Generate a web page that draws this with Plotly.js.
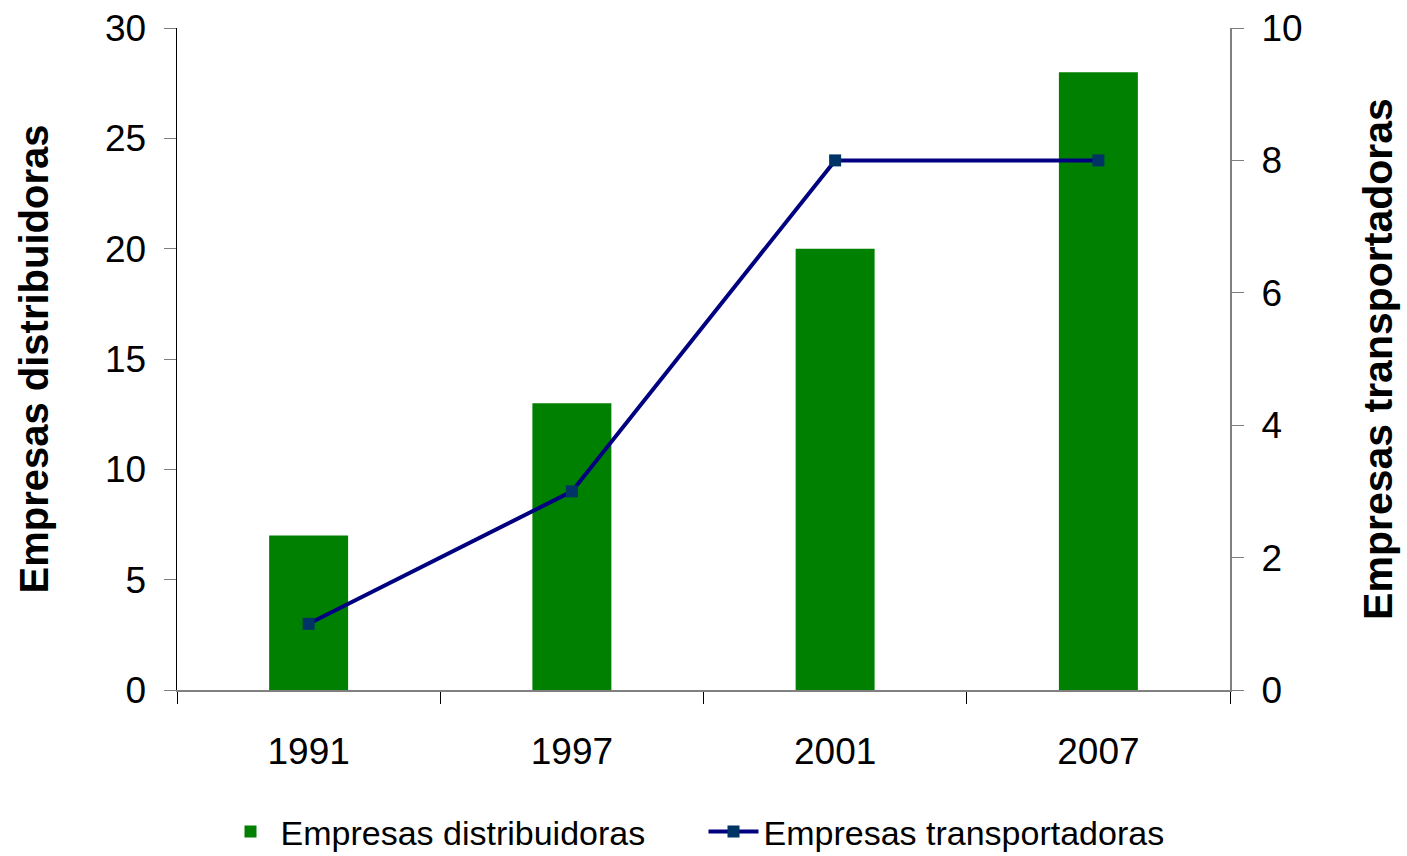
<!DOCTYPE html>
<html><head><meta charset="utf-8">
<script src="https://cdn.plot.ly/plotly-3.0.1.min.js"></script>
<style>html,body{margin:0;padding:0;background:#fff}</style>
</head><body>
<div id="chart" style="width:1407px;height:856px"></div>
<script>
const years = ['1991','1997','2001','2007'];
const distribuidoras = [7, 13, 20, 28];
const transportadoras = [1, 3, 8, 8];
const FONT = '"Liberation Sans Narrow", "Arial Narrow", Arial, sans-serif';

const traces = [
  {type:'bar', x:years, y:distribuidoras, name:'Empresas distribuidoras',
   marker:{color:'#008000'}, width:0.3, yaxis:'y'},
  {type:'scatter', mode:'lines+markers', x:years, y:transportadoras, name:'Empresas transportadoras',
   line:{color:'#000080', width:4}, marker:{symbol:'square', size:12, color:'#003366'}, yaxis:'y2'}
];
const layout = {
  width:1407, height:856,
  margin:{l:177, r:177, t:28, b:166, autoexpand:false},
  paper_bgcolor:'#fff', plot_bgcolor:'#fff',
  font:{family:FONT, color:'#000', size:36},
  showlegend:true,
  legend:{orientation:'h', x:0.5, xanchor:'center', y:-0.2145, yanchor:'middle',
          font:{size:34, family:FONT}, traceorder:'normal',
          entrywidth:418, entrywidthmode:'pixels', itemwidth:50},
  xaxis:{type:'category', tickson:'boundaries', ticks:'outside', ticklen:12, tickcolor:'#000',
         showline:true, linecolor:'#808080', linewidth:2, showgrid:false, zeroline:false,
         tickfont:{size:37}, range:[-0.5,3.5], ticklabelstandoff:28},
  yaxis:{range:[0,30], tickvals:[0,5,10,15,20,25,30], ticks:'outside', ticklen:12, tickcolor:'#808080',
         showline:true, linecolor:'#000', linewidth:1.5, showgrid:false, zeroline:false,
         tickfont:{size:37}, ticklabelstandoff:10,
         title:{text:'<b>Empresas distribuidoras</b>', font:{size:40}, standoff:44}},
  yaxis2:{range:[0,10], tickvals:[0,2,4,6,8,10], overlaying:'y', side:'right', ticks:'outside', ticklen:12,
          tickcolor:'#808080', showline:true, linecolor:'#808080', linewidth:2, showgrid:false, zeroline:false,
          tickfont:{size:37}, ticklabelstandoff:10,
          title:{text:'<b>Empresas transportadoras</b>', font:{size:41}, standoff:62}},
  bargap:0.7
};
Plotly.newPlot('chart', traces, layout, {displayModeBar:false, staticPlot:true});
</script>
</body></html>
